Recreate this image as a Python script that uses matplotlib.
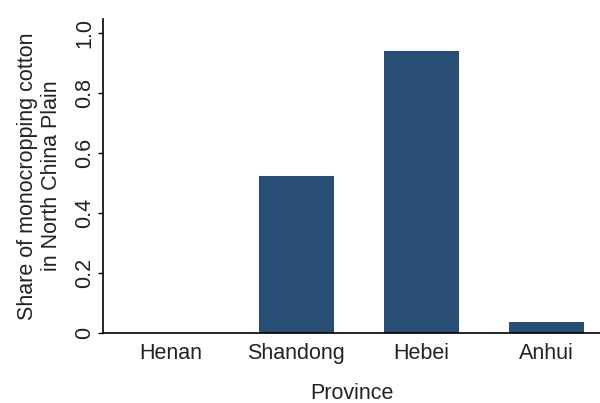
import matplotlib
matplotlib.use("Agg")
import matplotlib.pyplot as plt

provinces = ["Henan", "Shandong", "Hebei", "Anhui"]
share = [0.0, 0.523, 0.94, 0.037]
yticks = [0, 0.2, 0.4, 0.6, 0.8, 1.0]
ytick_labels = ["0", "0.2", "0.4", "0.6", "0.8", "1.0"]

plt.rcParams["font.family"] = ["Liberation Sans", "DejaVu Sans"]

fig = plt.figure(figsize=(6, 4.03), dpi=100)
ax = fig.add_axes([0.1717, 0.1737, 0.8283, 0.7792])

x = list(range(len(provinces)))
ax.bar(x, share, width=0.6, color="#294e74")

ax.set_xlim(-0.544, 3.43)
ax.set_ylim(0, 1.047)
ax.set_xticks(x)
ax.set_xticklabels(provinces, fontsize=15.5, color="#222222")
ax.tick_params(axis="x", length=0, pad=7)
ax.set_yticks(yticks)
ax.set_yticklabels(ytick_labels, fontsize=15.5, rotation=90, va="center", color="#222222")
ax.tick_params(axis="y", length=3.6, width=1, pad=2)

ax.spines["top"].set_visible(False)
ax.spines["right"].set_visible(False)
ax.spines["left"].set_linewidth(1.2)
ax.spines["bottom"].set_linewidth(1.2)

ax.set_xlabel("Province", fontsize=15.5, color="#222222", labelpad=14)
ax.set_ylabel("Share of monocropping cotton\nin North China Plain", fontsize=15.5,
              color="#222222", labelpad=9)

fig.savefig("out.png", dpi=100)
